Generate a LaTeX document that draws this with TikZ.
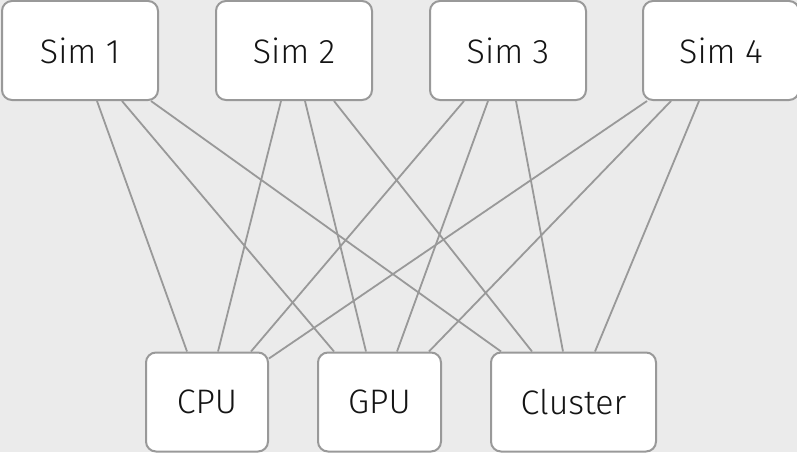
\documentclass[tikz,border=0pt]{standalone}
\usepackage{fontspec}
\setmainfont{Fira Sans Light}
\usetikzlibrary{backgrounds}
\definecolor{canvas}{RGB}{235,235,235}
\definecolor{edgegray}{RGB}{153,153,153}
\definecolor{ink}{RGB}{20,20,20}
\tikzset{
  box/.style={draw=edgegray, line width=2pt, fill=white, rounded corners=10pt,
    inner sep=0pt, text=ink, font=\fontsize{34}{40}\selectfont},
  simbox/.style={box, minimum width=156pt, minimum height=99pt},
  link/.style={draw=edgegray, line width=1.8pt},
}
\begin{document}
\begin{tikzpicture}[x=1pt,y=-1pt]
\useasboundingbox (0,0) rectangle (797,452);
% compute resources and simulations
\node[simbox] (s1) at (80,50.5) {Sim 1};
\node[simbox] (s2) at (294,50.5) {Sim 2};
\node[simbox] (s3) at (508,50.5) {Sim 3};
\node[simbox] (s4) at (721,50.5) {Sim 4};
\node[box, minimum width=122pt, minimum height=99pt] (cpu) at (207,402) {CPU};
\node[box, minimum width=123pt, minimum height=99pt] (gpu) at (379.5,402) {GPU};
\node[box, minimum width=165pt, minimum height=99pt] (cl) at (573.5,402) {Cluster};
\begin{scope}[on background layer]
\fill[canvas] (0,0) rectangle (797,452);
% every simulation can run on every resource
\draw[link] ([xshift=96pt]s1.south west) -- ([xshift=42pt]cpu.north west);
\draw[link] ([xshift=121pt]s1.south west) -- ([xshift=17pt]gpu.north west);
\draw[link] ([xshift=150pt]s1.south west) -- ([xshift=11pt]cl.north west);
\draw[link] ([xshift=66pt]s2.south west) -- ([xshift=73pt]cpu.north west);
\draw[link] ([xshift=90pt]s2.south west) -- ([xshift=49pt]gpu.north west);
\draw[link] ([xshift=119pt]s2.south west) -- ([xshift=42pt]cl.north west);
\draw[link] ([xshift=35pt]s3.south west) -- ([xshift=106pt]cpu.north west);
\draw[link] ([xshift=59pt]s3.south west) -- ([xshift=80pt]gpu.north west);
\draw[link] ([xshift=87pt]s3.south west) -- ([xshift=73pt]cl.north west);
\draw[link] ([xshift=5pt]s4.south west) -- ([yshift=-7pt]cpu.north east);
\draw[link] ([xshift=29pt]s4.south west) -- ([xshift=112pt]gpu.north west);
\draw[link] ([xshift=57pt]s4.south west) -- ([xshift=105pt]cl.north west);
\end{scope}
\end{tikzpicture}
\end{document}
